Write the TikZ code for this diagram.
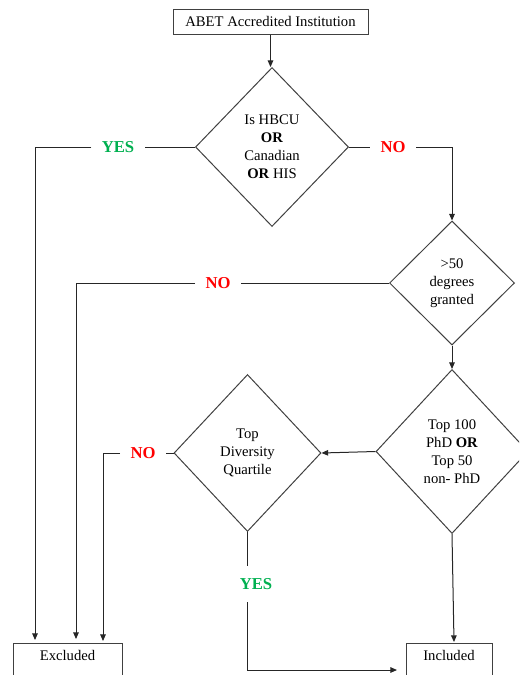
\documentclass[tikz,border=0pt]{standalone}
\usepackage{fontspec}
\setmainfont{Liberation Serif}
\usetikzlibrary{shapes.geometric,arrows.meta,calc}
\definecolor{yesgreen}{RGB}{0,176,80}
\definecolor{nored}{RGB}{255,0,0}
\begin{document}
\begin{tikzpicture}[x=0.75pt,y=-0.75pt,
  font=\fontsize{11}{13.5}\selectfont,
  line width=0.75pt,
  conn/.style={draw=black!85},
  arr/.style={conn,-{Triangle[length=5pt,width=4.2pt]}},
  dec/.style={diamond,draw=black!75,inner sep=0pt,align=center},
  box/.style={rectangle,draw=black!75,inner sep=0pt,align=center},
  lab/.style={font=\fontsize{12.5}{14}\selectfont\bfseries,inner xsep=7.5pt,inner ysep=7pt},
  yeslab/.style={lab,text=yesgreen},
  nolab/.style={lab,text=nored}]
\useasboundingbox (0,0) rectangle (519,675);
\clip (0,0) rectangle (519,675);

\node[box,minimum width=146.25pt,minimum height=18.75pt] (abet) at (270.5,21.5) {ABET Accredited Institution};

\node[dec,minimum width=114.75pt,minimum height=119.25pt] (d1) at (272,147)
  {Is HBCU\\\textbf{OR}\\Canadian\\\textbf{OR} HIS};
\node[dec,minimum width=93.75pt,minimum height=93pt] (d2) at (452,283)
  {\textgreater50\\degrees\\granted};
\node[dec,minimum width=114pt,minimum height=123pt] (d3) at (452,451.5)
  {Top 100\\PhD \textbf{OR}\\Top 50\\non- PhD};
\node[dec,minimum width=110.25pt,minimum height=117.75pt] (d4) at (247.5,453)
  {Top\\Diversity\\Quartile};

\node[box,anchor=north,minimum width=81.75pt,inner ysep=4.5pt,text height=8.5pt,text depth=30pt] (excl) at (67.5,643) {Excluded};
\node[box,anchor=north,minimum width=64.5pt,inner ysep=4.5pt,text height=8.5pt,text depth=30pt] (incl) at (449,643) {Included};

\node[yeslab] (yes1) at (118,147) {YES};
\node[nolab] (no1) at (393,147) {NO};
\node[nolab] (no2) at (218,283) {NO};
\node[nolab] (no3) at (143,453) {NO};
\node[yeslab,inner xsep=3pt,inner ysep=9pt] (yes2) at (256,584) {YES};

\coordinate (e1) at (35,640);
\coordinate (e2) at (76,639);
\coordinate (e3) at (103,641);
\coordinate (i1) at (454,642);
\coordinate (i2) at (397,670);

\draw[arr] (abet.south) -- (abet.south |- d1.north);
\draw[conn] (d1.west) -- (yes1.east);
\draw[arr] (yes1.west) -| (e1);
\draw[conn] (d1.east) -- (no1.west);
\draw[arr] (no1.east) -| (d2.north);
\draw[conn] (d2.west) -- (no2.east);
\draw[arr] (no2.west) -| (e2);
\draw[arr] (d2.south) -- (d3.north);
\draw[arr] (d3.west) -- (d4.east);
\draw[conn] (d4.west) -- (no3.east);
\draw[arr] (no3.west) -| (e3);
\draw[conn] (d4.south) -- (d4.south |- yes2.north);
\draw[arr] (d4.south |- yes2.south) |- (i2);
\draw[arr] (d3.south) -- (i1);
\end{tikzpicture}
\end{document}
